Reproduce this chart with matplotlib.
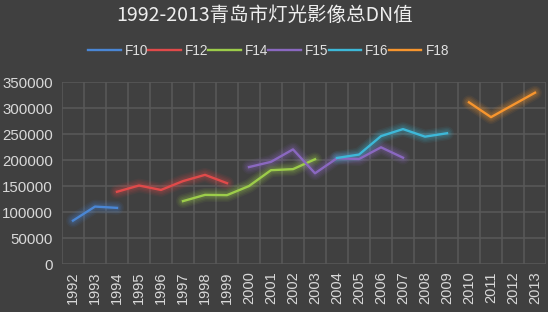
import matplotlib
matplotlib.use("Agg")
import matplotlib.pyplot as plt
import numpy as np

plt.rcParams['font.family'] = ['Noto Sans CJK SC', 'DejaVu Sans']

years = [str(y) for y in range(1992, 2014)]
series_names = ["F10", "F12", "F14", "F15", "F16", "F18"]
f10_years = ["1992", "1993", "1994"]
f10_vals = [84000, 111000, 108500]
f12_years = ["1994", "1995", "1996", "1997", "1998", "1999"]
f12_vals = [139500, 151500, 143000, 160000, 172000, 156000]
f14_years = ["1997", "1998", "1999", "2000", "2001", "2002", "2003"]
f14_vals = [121500, 133500, 133000, 150500, 181000, 183000, 202000]
f15_years = ["2000", "2001", "2002", "2003", "2004", "2005", "2006", "2007"]
f15_vals = [187000, 197000, 221000, 175000, 204000, 202500, 225000, 205000]
f16_years = ["2004", "2005", "2006", "2007", "2008", "2009"]
f16_vals = [204500, 211000, 246500, 260000, 245500, 252000]
f18_years = ["2010", "2011", "2012", "2013"]
f18_vals = [311500, 283000, 306500, 330000]
yticks = [0, 50000, 100000, 150000, 200000, 250000, 300000, 350000]

colors = ["#4a86d4", "#e04a4a", "#9ccc4a", "#8a68c0", "#3db8d8", "#f7952e"]
data = [(f10_years, f10_vals), (f12_years, f12_vals), (f14_years, f14_vals),
        (f15_years, f15_vals), (f16_years, f16_vals), (f18_years, f18_vals)]

bg = "#404040"
fig = plt.figure(figsize=(5.48, 3.12), dpi=100, facecolor=bg)
ax = fig.add_axes([62/548, (312-264.3)/312, (546-62)/548, (264.3-82.3)/312])
ax.set_facecolor(bg)

idx = {y: i for i, y in enumerate(years)}
handles = []
for name, (ys, vs), c in zip(series_names, data, colors):
    xs = [idx[y] for y in ys]
    for lw, a in [(10, 0.07), (8, 0.09), (6, 0.11), (4, 0.13)]:
        ax.plot(xs, vs, color=c, lw=lw, alpha=a, solid_capstyle='round', zorder=2)
    h, = ax.plot(xs, vs, color=c, lw=1.7, zorder=3, label=name)
    handles.append(h)

lab_font = ['Liberation Sans', 'DejaVu Sans']
ax.set_xlim(-0.5, len(years) - 0.5)
ax.set_ylim(0, 350000)
ax.set_xticks(range(len(years)))
ax.set_xticklabels(years, rotation=90, color="#d9d9d9", fontsize=10.5, family=lab_font)
ax.set_yticks(yticks)
ax.set_yticklabels([str(v) for v in yticks], color="#d9d9d9", fontsize=10.8, family=lab_font)
ax.tick_params(axis='y', length=0, pad=6.5)
ax.tick_params(axis='x', length=0, pad=5)
ax.set_xticks(np.arange(-0.5, len(years), 1), minor=True)
ax.tick_params(which='minor', length=0)
ax.grid(True, which='minor', axis='x', color="#585858", lw=1.2)
ax.grid(True, which='major', axis='y', color="#585858", lw=1.2)
ax.grid(False, which='major', axis='x')
ax.set_axisbelow(True)
for s in ax.spines.values():
    s.set_visible(False)

fig.text(0.482, 0.952, "1992-2013青岛市灯光影像总DN值", ha='center', va='center',
         color="#eeeeee", fontsize=14)
fig.legend(handles=handles, loc='center', bbox_to_anchor=(0.49, 0.838), ncol=6,
           frameon=False, handlelength=2.4, handletextpad=0.3,
           columnspacing=0.0, labelcolor="#e0e0e0",
           prop={'family': lab_font, 'size': 9.8})

fig.savefig("out.png", dpi=100, facecolor=bg)
